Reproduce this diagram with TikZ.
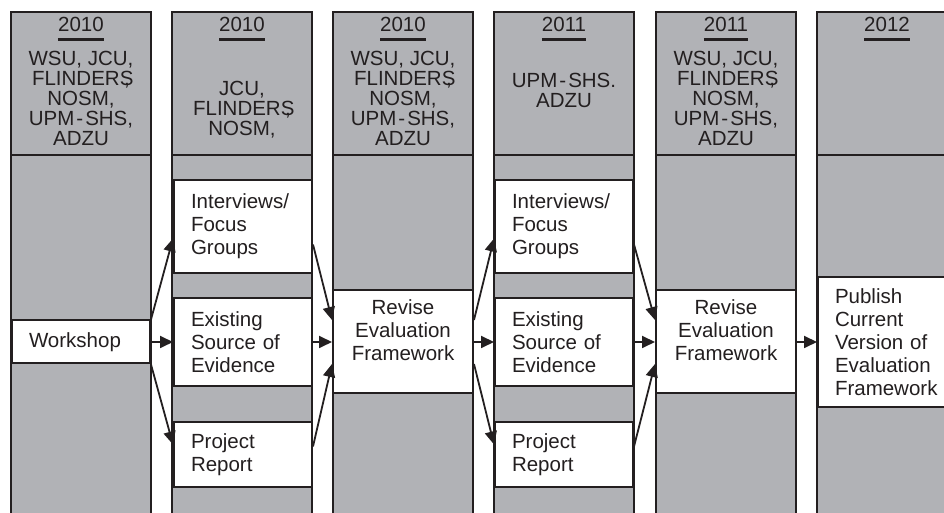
\documentclass[tikz,border=0pt]{standalone}
\usepackage{fontspec}
\setmainfont{Liberation Sans}
\usetikzlibrary{arrows.meta,calc}
\definecolor{colgray}{RGB}{177,178,182}
\definecolor{ink}{RGB}{35,31,32}

\begin{document}
\begin{tikzpicture}[x=1pt,y=1pt,
    column/.style={draw=ink,line width=2.2pt,fill=colgray},
    stage/.style={draw=ink,line width=2pt,fill=white,text=ink,font=\fontsize{20.5}{23}\selectfont,inner xsep=17pt,text width=104pt,align=left},
    revise/.style={stage,align=center,text width=106pt,minimum height=103pt},
    year/.style={text=ink,font=\fontsize{20.5}{20}\selectfont,inner xsep=0pt,anchor=base},
    sites/.style={text=ink,font=\fontsize{20.5}{20}\selectfont,align=center,inner sep=0pt,anchor=north},
    arr/.style={draw=ink,line width=1.8pt,-{Triangle[length=13pt,width=12pt]}}]
    \useasboundingbox (0,0) rectangle (944,513);
    \clip (0,0) rectangle (944,513);

    \foreach \x in {11,172,333,494,656,817} {
        \draw[column] (\x,-10) rectangle ++(140,511);
        \draw[column] (\x,358) -- ++(140,0);
    }

    \foreach \i/\x/\yr in {1/81/2010,2/242/2010,3/403/2010,4/564/2011,5/726/2011,6/887/2012} {
        \node[year] (yr\i) at (\x,481) {\yr};
        \draw[ink,line width=3pt] ($(yr\i.base west)+(0,-8)$) -- ($(yr\i.base east)+(0,-8)$);
    }

    \node[sites] (st1) at (81,462) {WSU, JCU,\\FLINDERS\kern-.45em,\\NOSM,\\UPM\kern2pt-\kern2pt SHS,\\ADZU};
    \node[sites] (st2) at (242,432) {JCU,\\FLINDERS\kern-.45em,\\NOSM,};
    \node[sites] (st3) at (403,462) {WSU, JCU,\\FLINDERS\kern-.45em,\\NOSM,\\UPM\kern2pt-\kern2pt SHS,\\ADZU};
    \node[sites] (st4) at (564,440) {UPM\kern2pt-\kern2pt SHS.\\ADZU};
    \node[sites] (st5) at (726,462) {WSU, JCU,\\FLINDERS\kern-.45em,\\NOSM,\\UPM\kern2pt-\kern2pt SHS,\\ADZU};

    \node[stage,minimum height=43pt] (ws) at (81,171) {Workshop};
    \node[stage,minimum height=93pt] (iv1) at (243,286.5) {Interviews/\\Focus\\Groups};
    \node[stage,minimum height=88pt] (ex1) at (243,171) {Existing\\Source of\\Evidence};
    \node[stage,minimum height=65pt] (pr1) at (243,58.5) {Project\\Report};
    \node[revise] (rv1) at (403,171) {Revise\\Evaluation\\Framework\\~};
    \node[stage,minimum height=93pt] (iv2) at (564,286.5) {Interviews/\\Focus\\Groups};
    \node[stage,minimum height=88pt] (ex2) at (564,171) {Existing\\Source of\\Evidence};
    \node[stage,minimum height=65pt] (pr2) at (564,58.5) {Project\\Report};
    \node[revise] (rv2) at (726,171) {Revise\\Evaluation\\Framework\\~};
    \node[stage,minimum height=130pt] (pb) at (887,171) {Publish\\Current\\Version of\\Evaluation\\Framework};

    \draw[arr] (ws.north east) -- ($(iv1.west)+(0,-12)$);
    \draw[arr] (ws) -- (ex1);
    \draw[arr] (ws.south east) -- ($(pr1.west)+(0,10)$);
    \draw[arr] ($(iv1.east)+(0,-18)$) -- ($(rv1.west)+(0,22)$);
    \draw[arr] (ex1) -- (rv1);
    \draw[arr] ($(pr1.east)+(0,8)$) -- ($(rv1.west)+(0,-22)$);
    \draw[arr] ($(rv1.east)+(0,22)$) -- ($(iv2.west)+(0,-12)$);
    \draw[arr] (rv1) -- (ex2);
    \draw[arr] ($(rv1.east)+(0,-22)$) -- ($(pr2.west)+(0,10)$);
    \draw[arr] ($(iv2.east)+(0,-18)$) -- ($(rv2.west)+(0,22)$);
    \draw[arr] (ex2) -- (rv2);
    \draw[arr] ($(pr2.east)+(0,8)$) -- ($(rv2.west)+(0,-22)$);
    \draw[arr] (rv2) -- (pb);
\end{tikzpicture}
\end{document}
